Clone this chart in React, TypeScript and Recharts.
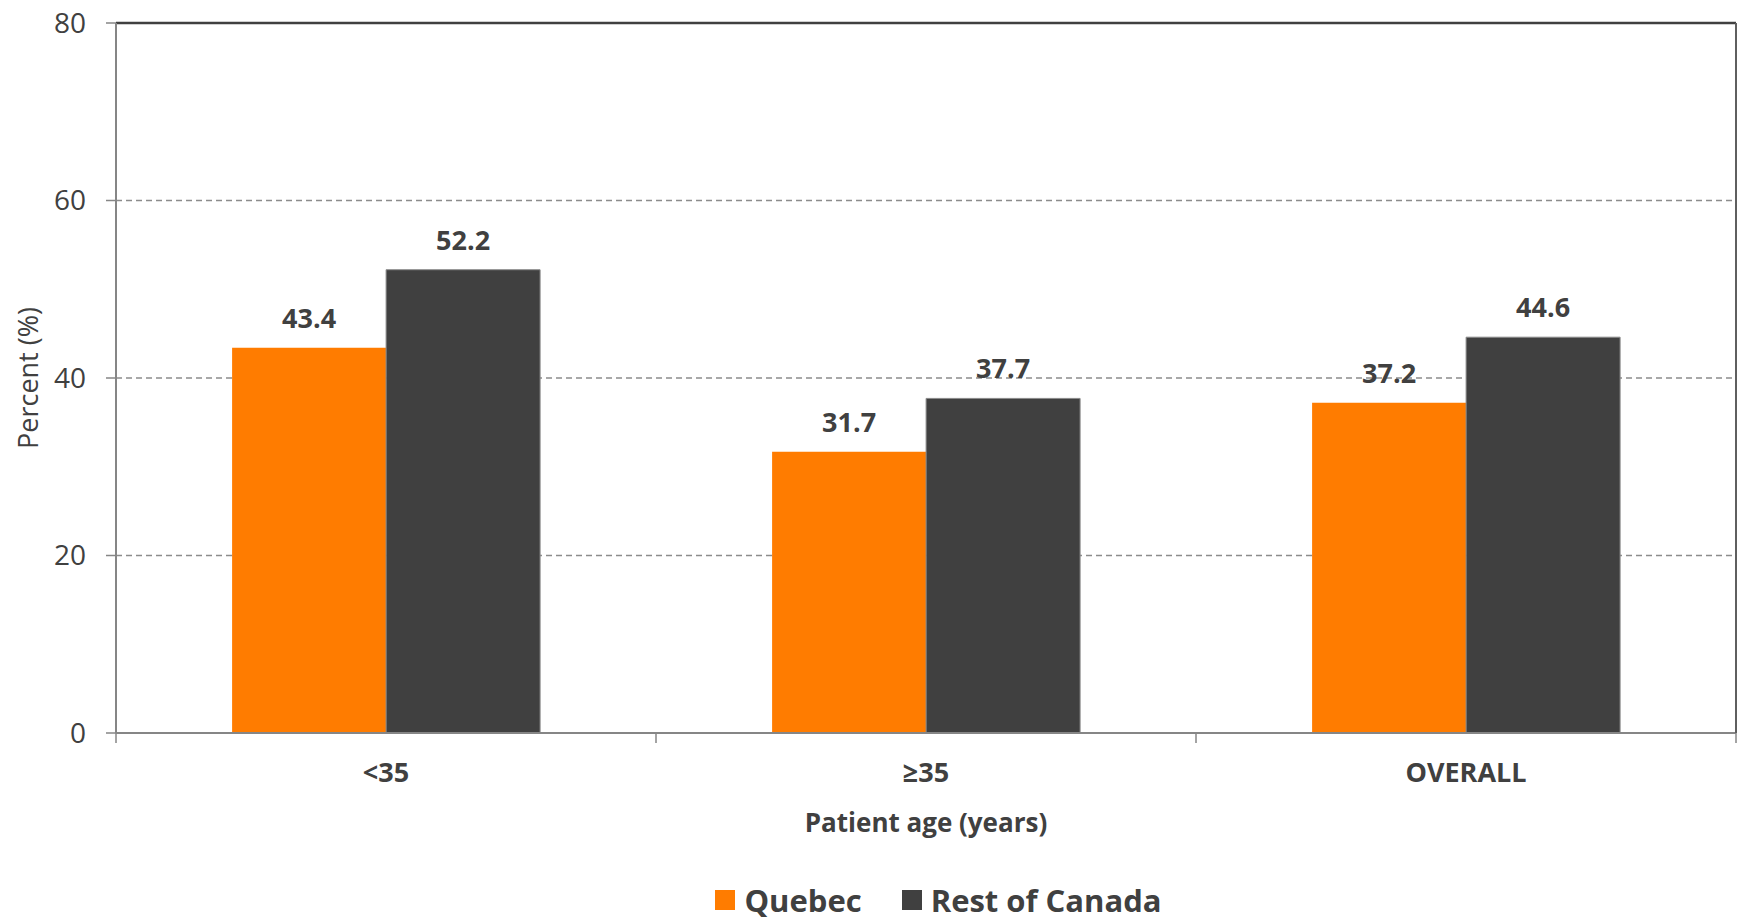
import React from 'react';
import {
  BarChart, Bar, XAxis, YAxis, CartesianGrid, Legend, LabelList, ReferenceLine,
} from 'recharts';

const categories = ['<35', '≥35', 'OVERALL'];
const quebec = [43.4, 31.7, 37.2];
const restOfCanada = [52.2, 37.7, 44.6];
const yTicks = [0, 20, 40, 60, 80];
const seriesNames = ['Quebec', 'Rest of Canada'];
const seriesColors = ['#FF7C00', '#404040'];

const data = categories.map((c, i) => ({ cat: c, q: quebec[i], r: restOfCanada[i] }));

const FONT = '"Open Sans", "Noto Sans", sans-serif';
const TEXT = '#404040';
const AXIS = '#868686';

const W = 1739;
const H = 918;

const LegendContent = () => (
  <div
    style={{
      width: W,
      height: 36,
      paddingLeft: 138,
      boxSizing: 'border-box',
      display: 'flex',
      justifyContent: 'center',
      alignItems: 'center',
      fontFamily: FONT,
      fontWeight: 700,
      fontSize: 31,
      color: TEXT,
    }}
  >
    {seriesNames.map((n, i) => (
      <div key={n} style={{ display: 'flex', alignItems: 'center', marginLeft: i === 0 ? 0 : 40 }}>
        <div style={{ width: 20, height: 20, background: seriesColors[i], marginRight: 9 }} />
        <span>{n}</span>
      </div>
    ))}
  </div>
);

const CategoryTick = (props: any) => {
  const { x, y, payload, index, visibleTicksCount } = props;
  const half = payload.offset || 0;
  const axisY = y - 30;
  const isLast = index === (visibleTicksCount ?? categories.length) - 1;
  return (
    <g>
      <line x1={x - half} x2={x - half} y1={axisY} y2={axisY + 10} stroke={AXIS} strokeWidth={1.5} />
      {isLast && (
        <line x1={x + half} x2={x + half} y1={axisY} y2={axisY + 10} stroke={AXIS} strokeWidth={1.5} />
      )}
      <text
        x={x}
        y={y}
        dy="0.71em"
        textAnchor="middle"
        fill={TEXT}
        fontSize={27}
        fontWeight={700}
        fontFamily={FONT}
      >
        {payload.value}
      </text>
    </g>
  );
};

export default function App() {
  return (
    <div style={{ position: 'absolute', left: 0, top: 0, width: W, height: H, background: '#fff' }}>
      <BarChart
        width={W}
        height={H}
        data={data}
        margin={{ top: 23, right: 0, left: 0, bottom: 0 }}
        barCategoryGap="21.5%"
        barGap={0}
      >
        <CartesianGrid
          vertical={false}
          stroke="#8c8c8c"
          strokeWidth={1.5}
          strokeDasharray="6 4"
        />
        <XAxis
          dataKey="cat"
          axisLine={{ stroke: AXIS, strokeWidth: 2 }}
          tickLine={false}
          tickSize={0}
          tickMargin={30}
          height={149}
          interval={0}
          tick={<CategoryTick />}
          label={{
            value: 'Patient age (years)',
            position: 'insideBottom',
            offset: 50,
            fill: TEXT,
            fontSize: 26,
            fontWeight: 700,
            fontFamily: FONT,
          }}
        />
        <YAxis
          domain={[0, 80]}
          ticks={yTicks}
          width={116}
          axisLine={{ stroke: AXIS, strokeWidth: 2 }}
          tickLine={{ stroke: AXIS, strokeWidth: 1.5 }}
          tickSize={10}
          tickMargin={20}
          tick={{ fill: TEXT, fontSize: 28, fontFamily: FONT }}
          label={{
            value: 'Percent (%)',
            angle: -90,
            position: 'insideLeft',
            offset: 28,
            fill: TEXT,
            fontSize: 27,
            fontFamily: FONT,
            style: { textAnchor: 'middle' },
          }}
        />
        <YAxis
          yAxisId="r"
          orientation="right"
          domain={[0, 80]}
          width={3}
          tick={false}
          tickLine={false}
          axisLine={{ stroke: '#5f5f5f', strokeWidth: 2 }}
        />
        <ReferenceLine y={80} stroke="#404040" strokeWidth={2.5} />
        <Legend verticalAlign="bottom" wrapperStyle={{ left: 0, width: W }} content={LegendContent} />
        <Bar dataKey="q" name={seriesNames[0]} fill={seriesColors[0]} isAnimationActive={false}>
          <LabelList
            dataKey="q"
            position="top"
            offset={20}
            fill={TEXT}
            fontSize={27}
            fontWeight={700}
            fontFamily={FONT}
          />
        </Bar>
        <Bar dataKey="r" name={seriesNames[1]} fill={seriesColors[1]} stroke="#8a8a8a" strokeWidth={1} isAnimationActive={false}>
          <LabelList
            dataKey="r"
            position="top"
            offset={20}
            fill={TEXT}
            fontSize={27}
            fontWeight={700}
            fontFamily={FONT}
          />
        </Bar>
      </BarChart>
    </div>
  );
}
